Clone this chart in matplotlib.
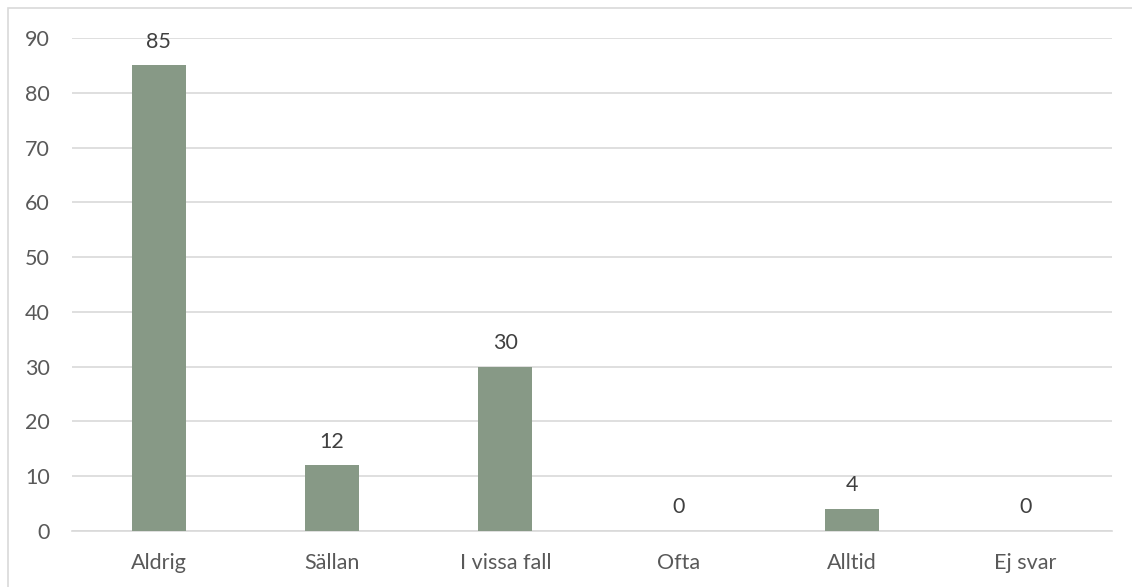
import matplotlib
matplotlib.use("Agg")
import matplotlib.pyplot as plt
from matplotlib.patches import Rectangle

categories = ["Aldrig", "Sällan", "I vissa fall", "Ofta", "Alltid", "Ej svar"]
values = [85, 12, 30, 0, 4, 0]
yticks = [0, 10, 20, 30, 40, 50, 60, 70, 80, 90]

plt.rcParams['font.family'] = ['Lato', 'DejaVu Sans']

fig = plt.figure(figsize=(11.32, 5.87), dpi=100)
W, H = 1132, 587
fig.patches.append(Rectangle((8 / W, -0.1), 1.2, 1 - 8 / H + 0.1, transform=fig.transFigure,
                             fill=False, edgecolor='#d9d9d9', linewidth=1.2))

ax = fig.add_axes([72 / W, 1 - 531 / H, (1112 - 72) / W, (531 - 38) / H])
x = list(range(len(categories)))
bars = ax.bar(x, values, width=0.31, color='#879986', zorder=3)
for xi, v in zip(x, values):
    ax.text(xi, v + 2.5, str(v), ha='center', va='bottom', fontsize=15.5, color='#404040')

ax.set_xlim(-0.5, len(categories) - 0.5)
ax.set_ylim(0, 90)
ax.set_yticks(yticks)
ax.set_xticks(x)
ax.set_xticklabels(categories)
ax.grid(axis='y', color='#d9d9d9', linewidth=1.2, zorder=0)
for s in ['top', 'right', 'left']:
    ax.spines[s].set_visible(False)
ax.spines['bottom'].set_color('#d9d9d9')
ax.spines['bottom'].set_linewidth(1.2)
ax.tick_params(axis='both', length=0, labelsize=15.5, labelcolor='#595959')
ax.tick_params(axis='x', pad=15.5)
ax.tick_params(axis='y', pad=16)

fig.savefig("out.png", dpi=100)
